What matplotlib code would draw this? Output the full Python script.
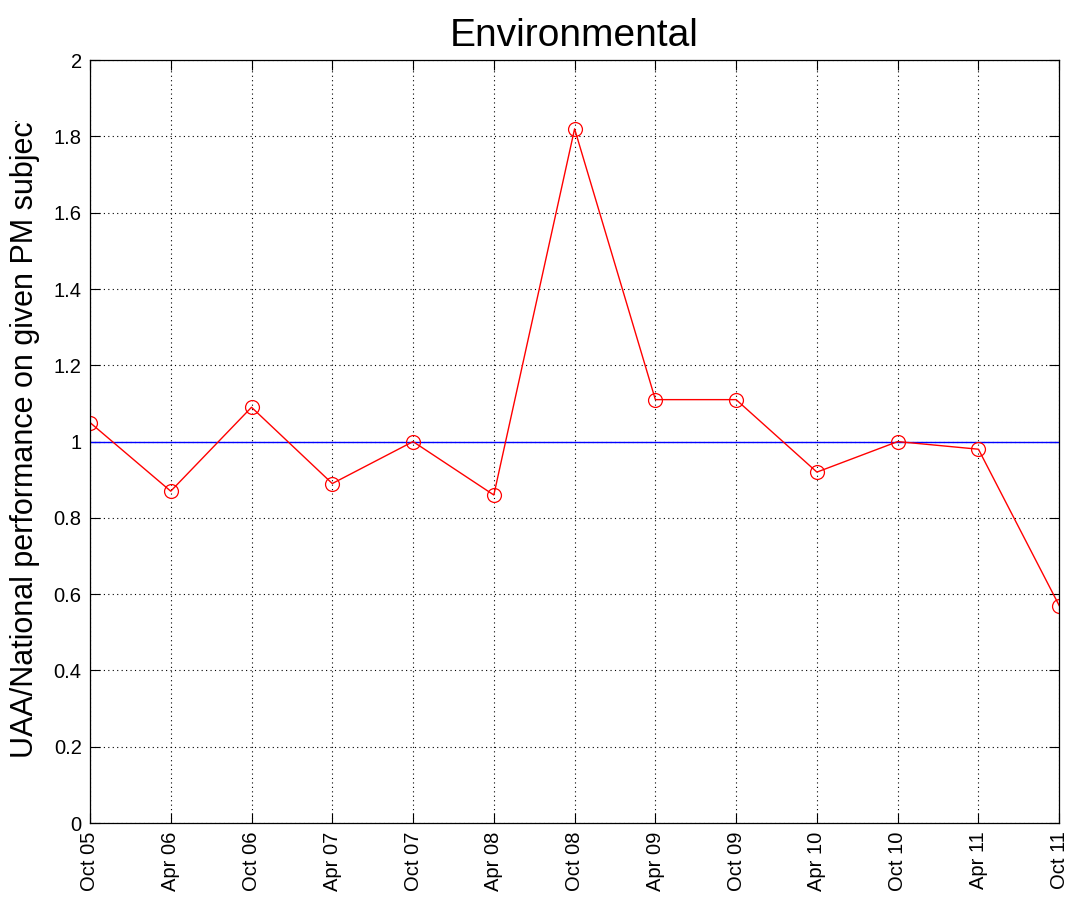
import matplotlib
matplotlib.use('Agg')
import matplotlib.pyplot as plt
from matplotlib.transforms import Bbox

periods = ['Oct 05', 'Apr 06', 'Oct 06', 'Apr 07', 'Oct 07', 'Apr 08', 'Oct 08',
           'Apr 09', 'Oct 09', 'Apr 10', 'Oct 10', 'Apr 11', 'Oct 11']
ratio = [1.05, 0.87, 1.09, 0.89, 1.00, 0.86, 1.82, 1.11, 1.11, 0.92, 1.00, 0.98, 0.57]
national = 1.0

plt.rcParams['font.family'] = ['Liberation Sans', 'DejaVu Sans']

fig = plt.figure(figsize=(10.71, 8.98), dpi=100)
ax = fig.add_axes([0.084, 0.0835, 0.905, 0.8495])

x = list(range(len(periods)))
ax.axhline(national, color='#0000ff', lw=1.0)
ax.plot(x, ratio, color='#ff0000', lw=1.0, marker='o', markersize=10,
        markerfacecolor='none', markeredgecolor='#ff0000', markeredgewidth=0.9)

ax.set_xlim(0, len(periods) - 1)
ax.set_ylim(0, 2)
ax.set_xticks(x)
ax.set_xticklabels(periods, rotation=90, fontsize=14.5)
ax.set_yticks([0, 0.2, 0.4, 0.6, 0.8, 1, 1.2, 1.4, 1.6, 1.8, 2])
ax.set_yticklabels(['0', '0.2', '0.4', '0.6', '0.8', '1', '1.2', '1.4', '1.6', '1.8', '2'],
                   fontsize=14.5)
ax.tick_params(direction='in', length=7, width=0.8, top=True, right=True, pad=6)
ax.grid(True, linestyle=(0, (1, 3)), color='black', lw=0.8)
for s in ax.spines.values():
    s.set_linewidth(0.9)

ax.set_title('Environmental', fontsize=28, pad=10)
ylab = ax.set_ylabel('UAA/National performance on given PM subject', fontsize=22)
ax.yaxis.set_label_coords(-0.052, 0.508)
# the label is longer than the axes; cut it off near the top
ylab.set_clip_box(Bbox([[0, 0], [1071, 898 - 121]]))
ylab.set_clip_on(True)

fig.savefig('out.png', dpi=100)
